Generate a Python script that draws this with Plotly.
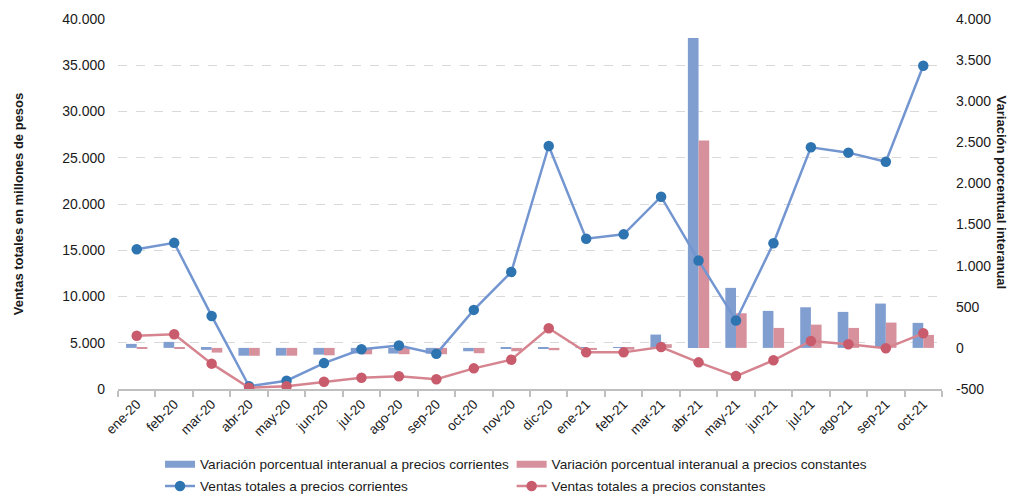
import plotly.graph_objects as go

meses = ["ene-20","feb-20","mar-20","abr-20","may-20","jun-20","jul-20","ago-20","sep-20","oct-20","nov-20","dic-20",
         "ene-21","feb-21","mar-21","abr-21","may-21","jun-21","jul-21","ago-21","sep-21","oct-21"]
ventas_corrientes = [15100,15800,7900,300,900,2800,4300,4700,3800,8550,12650,26270,16250,16720,20790,13900,7400,15750,26130,25550,24570,34950]
ventas_constantes = [5760,5910,2740,140,290,790,1220,1370,1050,2230,3170,6560,3960,3960,4540,2880,1400,3100,5190,4830,4400,6020]
var_corrientes = [49,73,-24,-95,-94,-82,-68,-69,-70,-41,-8,-3,3,6,162,3770,730,450,494,438,539,304]
var_constantes = [-4,-6,-57,-96,-95,-90,-78,-77,-77,-65,-41,-28,-25,-22,45,2521,421,243,283,243,308,158]

left_ticks = [0,5000,10000,15000,20000,25000,30000,35000,40000]
left_labels = ["0","5.000","10.000","15.000","20.000","25.000","30.000","35.000","40.000"]
right_ticks = [-500,0,500,1000,1500,2000,2500,3000,3500,4000]
right_labels = ["-500","0","500","1.000","1.500","2.000","2.500","3.000","3.500","4.000"]

BLUE_BAR = "#819ed0"
RED_BAR = "#d6919d"
BLUE_LINE = "#7396d1"
BLUE_MARK = "#2e74b0"
RED_LINE = "#d6848f"
RED_MARK = "#c85c6c"
TXT = "#1a1a1a"
FONT = "Liberation Sans, Arial, sans-serif"

fig = go.Figure()
fig.add_trace(go.Bar(x=meses, y=var_corrientes, name="Variación porcentual interanual a precios corrientes",
                     marker=dict(color=BLUE_BAR, line=dict(width=0)), yaxis="y", showlegend=False))
fig.add_trace(go.Bar(x=meses, y=var_constantes, name="Variación porcentual interanual a precios constantes",
                     marker=dict(color=RED_BAR, line=dict(width=0)), yaxis="y", showlegend=False))
fig.add_trace(go.Scatter(x=meses, y=ventas_corrientes, name="Ventas totales a precios corrientes",
                         mode="lines+markers", line=dict(color=BLUE_LINE, width=2.5),
                         marker=dict(color=BLUE_MARK, size=10.5), yaxis="y2", legend="legend3"))
fig.add_trace(go.Scatter(x=meses, y=ventas_constantes, name="Ventas totales a precios constantes",
                         mode="lines+markers", line=dict(color=RED_LINE, width=2.5),
                         marker=dict(color=RED_MARK, size=10.5), yaxis="y2", legend="legend4"))
# legend proxies for the bar series (wide flat swatches)
fig.add_trace(go.Scatter(x=[None], y=[None], mode="lines", line=dict(color=BLUE_BAR, width=7),
                         name="Variación porcentual interanual a precios corrientes", yaxis="y2", legend="legend"))
fig.add_trace(go.Scatter(x=[None], y=[None], mode="lines", line=dict(color=RED_BAR, width=7),
                         name="Variación porcentual interanual a precios constantes", yaxis="y2", legend="legend2"))

col1_x, col2_x = 0.051, 0.4777
row1_y, row2_y = 0.062, 0.018
def leg(x, y):
    return dict(orientation="h", x=x, xanchor="left", yref="container", y=y, yanchor="middle",
                font=dict(size=13.6), bgcolor="rgba(0,0,0,0)", itemwidth=30)

fig.update_layout(
    width=1013, height=495,
    margin=dict(l=117.5, r=70.5, t=19, b=106, autoexpand=False),
    paper_bgcolor="white", plot_bgcolor="white",
    font=dict(family=FONT, size=13, color=TXT),
    barmode="group", bargap=0.43, bargroupgap=0,
    xaxis=dict(type="category", range=[-0.5, len(meses) - 0.5], showline=True, linecolor="#bfbfbf", linewidth=2,
               ticks="outside", tickson="boundaries", ticklen=6, tickcolor="#bfbfbf", tickwidth=1.5,
               tickangle=-45, tickfont=dict(size=13.5), showgrid=False, automargin=False),
    yaxis=dict(side="right", range=[-500, 4000], tickvals=right_ticks, ticktext=right_labels,
               showgrid=False, zeroline=False, showline=False, ticks="", tickfont=dict(size=14),
               ticklabelstandoff=13, automargin=False),
    yaxis2=dict(side="left", overlaying="y", range=[0, 40000], tickvals=left_ticks, ticktext=left_labels,
                showgrid=True, gridcolor="#d9d9d9", griddash="dash", gridwidth=1, zeroline=False,
                showline=False, ticks="", tickfont=dict(size=14), ticklabelstandoff=12, automargin=False,
                title=dict(text="<b>Ventas totales en millones de pesos</b>", font=dict(size=13), standoff=35)),
    legend=leg(col1_x, row1_y),
    legend2=leg(col2_x, row1_y),
    legend3=leg(col1_x, row2_y),
    legend4=leg(col2_x, row2_y),
    annotations=[dict(text="<b>Variación porcentual interanual</b>", xref="paper", yref="paper",
                      x=1.072, xanchor="center", y=0.53, yanchor="middle", textangle=90, showarrow=False,
                      font=dict(size=13, color=TXT))],
)

fig.write_html("out.html", config={"displayModeBar": False},
               post_script="document.body.style.margin='0';")
